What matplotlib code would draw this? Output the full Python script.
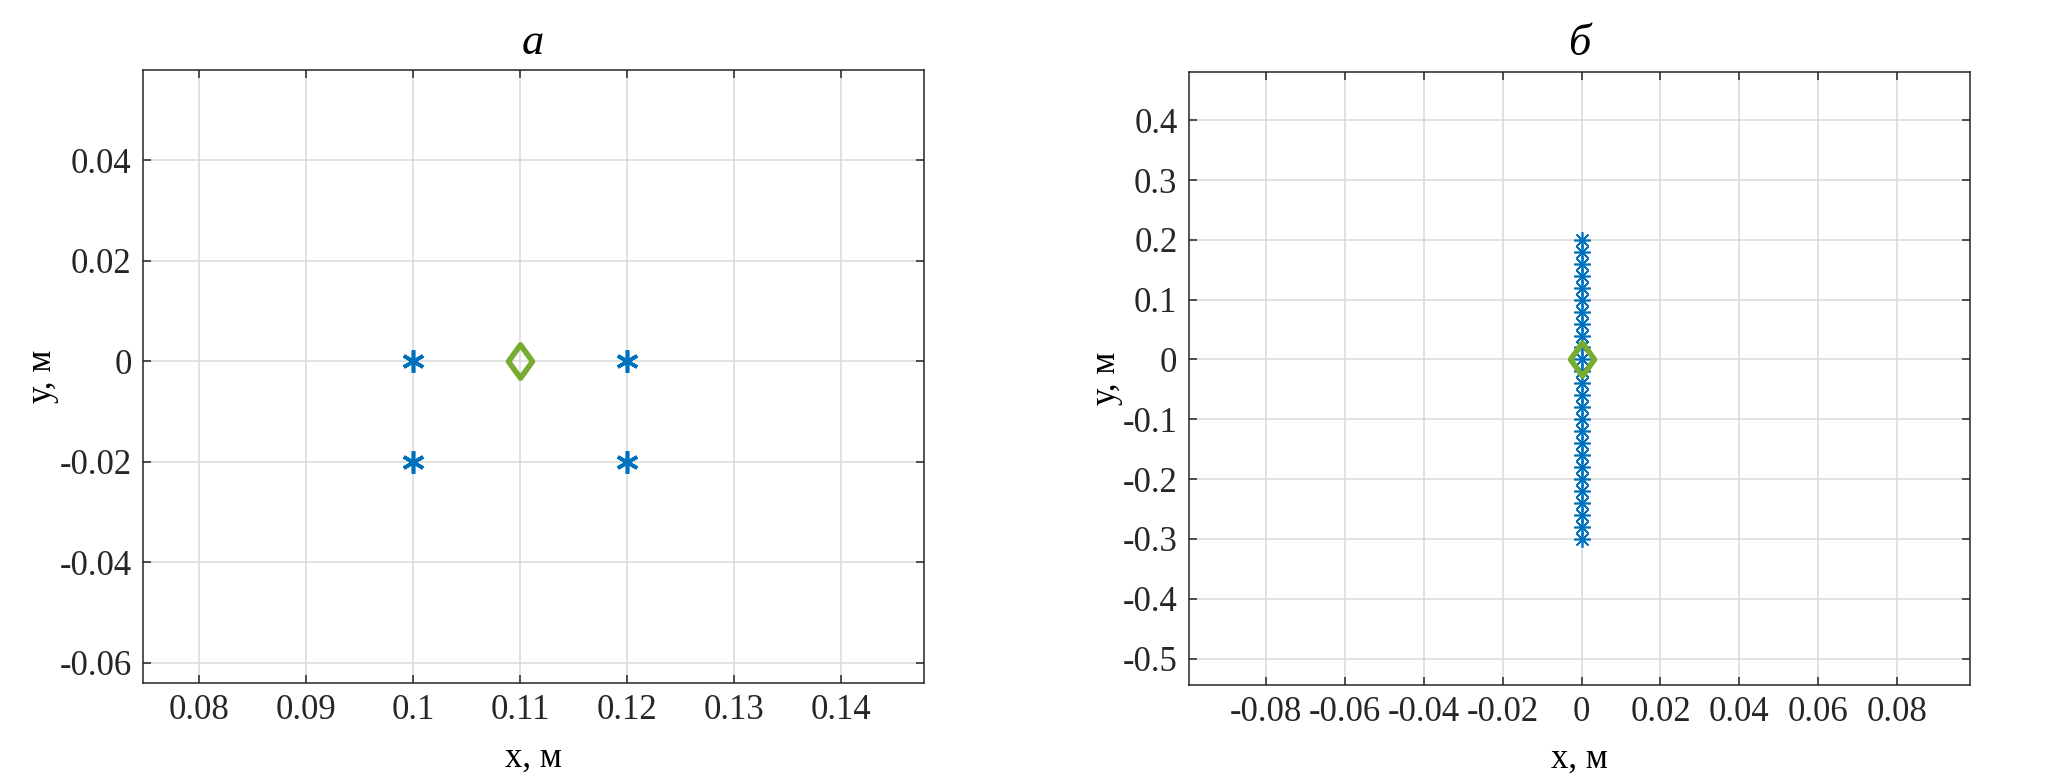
import numpy as np
import matplotlib.pyplot as plt
from matplotlib.path import Path

plt.rcParams['font.family'] = ['Liberation Serif', 'DejaVu Serif']

# Панель а: приёмники и источник
a_x = [0.10, 0.12, 0.10, 0.12]
a_y = [0.0, 0.0, -0.02, -0.02]
a_src_x = [0.11]
a_src_y = [0.0]

# Панель б: линейка приёмников вдоль оси y
b_y = [0.20, 0.18, 0.16, 0.14, 0.12, 0.10, 0.08, 0.06, 0.04, 0.02, 0.0,
       -0.02, -0.04, -0.06, -0.08, -0.10, -0.12, -0.14, -0.16, -0.18, -0.20,
       -0.22, -0.24, -0.26, -0.28, -0.30]
b_x = [0.0] * len(b_y)
b_src_x = [0.0]
b_src_y = [0.0]

a_xticks = [0.08, 0.09, 0.1, 0.11, 0.12, 0.13, 0.14]
a_xticklabels = ['0.08', '0.09', '0.1', '0.11', '0.12', '0.13', '0.14']
a_yticks = [0.04, 0.02, 0, -0.02, -0.04, -0.06]
a_yticklabels = ['0.04', '0.02', '0', '-0.02', '-0.04', '-0.06']
b_xticks = [-0.08, -0.06, -0.04, -0.02, 0, 0.02, 0.04, 0.06, 0.08]
b_xticklabels = ['-0.08', '-0.06', '-0.04', '-0.02', '0', '0.02', '0.04', '0.06', '0.08']
b_yticks = [0.4, 0.3, 0.2, 0.1, 0, -0.1, -0.2, -0.3, -0.4, -0.5]
b_yticklabels = ['0.4', '0.3', '0.2', '0.1', '0', '-0.1', '-0.2', '-0.3', '-0.4', '-0.5']

blue = '#0072BD'
green = '#77AC30'
diamond = Path([(0, 1), (0.72, 0), (0, -1), (-0.72, 0), (0, 1)], closed=True)

fig = plt.figure(figsize=(20.67, 7.8), dpi=100)
ax1 = fig.add_axes([0.069, 0.124, 0.378, 0.786])
ax2 = fig.add_axes([0.575, 0.122, 0.378, 0.786])

ax1.plot(a_x, a_y, linestyle='none', marker=(6, 2, 0), markersize=16,
         markeredgewidth=2.6, color=blue, zorder=3)
ax1.plot(a_src_x, a_src_y, linestyle='none', marker=diamond, markersize=24,
         markeredgewidth=4, markerfacecolor='none', markeredgecolor=green, zorder=4)

ax2.plot(b_x, b_y, linestyle='none', marker=(8, 2, 0), markersize=12,
         markeredgewidth=1.2, color=blue, zorder=3)
ax2.plot(b_src_x, b_src_y, linestyle='none', marker=diamond, markersize=24,
         markeredgewidth=4, markerfacecolor='none', markeredgecolor=green, zorder=4)

ax1.set_xlim(0.0747, 0.1478)
ax1.set_ylim(-0.0641, 0.0579)
ax2.set_xlim(-0.0996, 0.0984)
ax2.set_ylim(-0.544, 0.481)

ax1.set_xticks(a_xticks, a_xticklabels)
ax1.set_yticks(a_yticks, a_yticklabels)
ax2.set_xticks(b_xticks, b_xticklabels)
ax2.set_yticks(b_yticks, b_yticklabels)

for ax, title in [(ax1, 'а'), (ax2, 'б')]:
    ax.grid(True, color='#d9d9d9', linewidth=1.1)
    ax.set_axisbelow(True)
    ax.tick_params(direction='in', length=6, width=1.1, top=True, right=True,
                   labelsize=25, colors='#262626', pad=8)
    for s in ax.spines.values():
        s.set_color('#262626')
        s.set_linewidth(1.1)
    ax.set_title(title, fontsize=32, fontstyle='italic', pad=12)
    ax.set_xlabel('х, м', fontsize=25, labelpad=10)
    ax.set_ylabel('у, м', fontsize=25, labelpad=0)

fig.savefig('out.png', dpi=100)
